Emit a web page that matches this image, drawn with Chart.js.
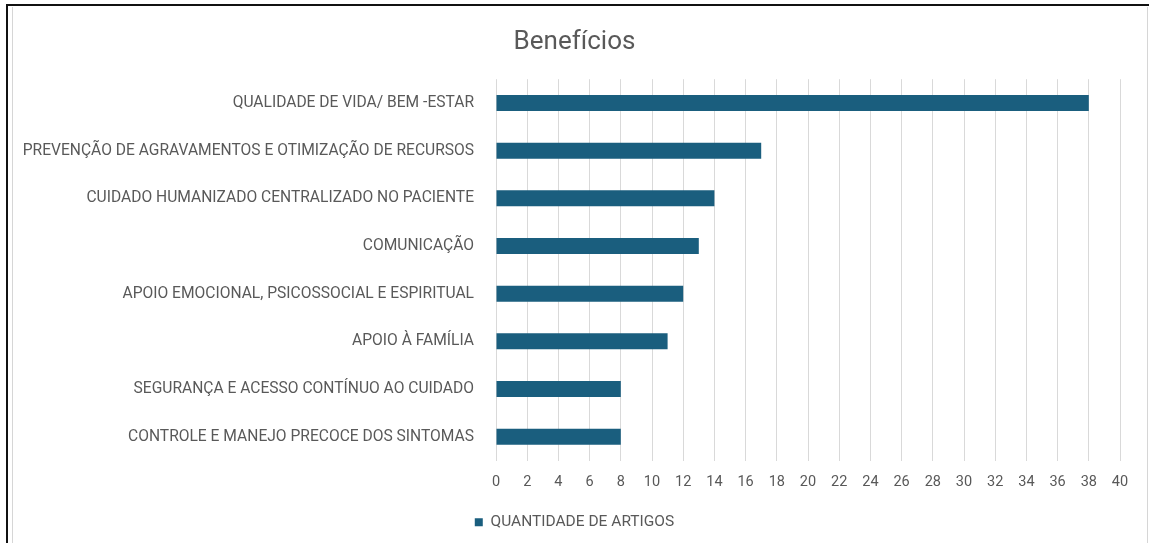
<!DOCTYPE html>
<html>
<head>
<meta charset="utf-8">
<script src="https://cdn.jsdelivr.net/npm/chart.js@4.4.1/dist/chart.umd.min.js"></script>
<style>
  html, body { margin: 0; padding: 0; background: #fff; }
  body { width: 1149px; height: 543px; position: relative; overflow: hidden; }
  #frame { position: absolute; left: 6px; top: 4px; width: 1160px; height: 560px;
           border-left: 2.5px solid #111; border-top: 2.5px solid #111; box-sizing: border-box; }
  #inner { position: absolute; left: 12px; top: 7px; width: 1136px; height: 560px;
           border-left: 1px solid #d6d6d6; border-right: 1px solid #d6d6d6; box-sizing: border-box; }
  canvas { position: absolute; left: 0; top: 0; }
</style>
</head>
<body>
<div id="frame"></div>
<div id="inner"></div>
<canvas id="c" width="1149" height="543"></canvas>
<script>
const chartTitle = "Benefícios";
const seriesName = "QUANTIDADE DE ARTIGOS";
const categories = [
  "QUALIDADE DE VIDA/ BEM -ESTAR",
  "PREVENÇÃO DE AGRAVAMENTOS E OTIMIZAÇÃO DE RECURSOS",
  "CUIDADO HUMANIZADO CENTRALIZADO NO PACIENTE",
  "COMUNICAÇÃO",
  "APOIO EMOCIONAL, PSICOSSOCIAL E ESPIRITUAL",
  "APOIO À FAMÍLIA",
  "SEGURANÇA E ACESSO CONTÍNUO AO CUIDADO",
  "CONTROLE E MANEJO PRECOCE DOS SINTOMAS"
];
const values = [38, 17, 14, 13, 12, 11, 8, 8];
const xMin = 0, xMax = 40, xStep = 2;

const textColor = "#595959";
const barColor = "#1a5e7e";
const gridColor = "#d9d9d9";
const fontFamily = "Roboto, 'Liberation Sans', sans-serif";

new Chart(document.getElementById("c"), {
  type: "bar",
  data: {
    labels: categories,
    datasets: [{
      label: seriesName,
      data: values,
      backgroundColor: barColor,
      borderWidth: 0,
      barPercentage: 0.67,
      categoryPercentage: 0.5
    }]
  },
  options: {
    indexAxis: "y",
    responsive: false,
    animation: false,
    layout: { padding: { left: 0, right: 0, top: 0, bottom: 3 } },
    plugins: {
      title: {
        display: true,
        text: chartTitle,
        color: textColor,
        font: { family: fontFamily, size: 26, weight: "normal" },
        padding: { top: 27, bottom: 21 }
      },
      legend: {
        display: true,
        position: "bottom",
        align: "center",
        labels: {
          color: textColor,
          font: { family: fontFamily, size: 15.5 },
          boxWidth: 8,
          boxHeight: 8,
          padding: 10
        }
      },
      tooltip: { enabled: false }
    },
    scales: {
      x: {
        type: "linear",
        min: xMin,
        max: xMax,
        position: "bottom",
        ticks: {
          stepSize: xStep,
          color: textColor,
          font: { family: fontFamily, size: 14.5 },
          padding: 13
        },
        grid: { color: gridColor, lineWidth: 1, drawTicks: false },
        border: { display: false },
        afterFit: s => { s.height = 44; }
      },
      y: {
        type: "category",
        position: "left",
        ticks: {
          color: textColor,
          font: { family: fontFamily, size: 15.6 },
          padding: 22,
          autoSkip: false
        },
        grid: { display: false, drawTicks: false },
        border: { display: false },
        afterFit: s => { s.width = 496; }
      },
      yRight: {
        type: "category",
        position: "right",
        display: true,
        ticks: { display: false },
        grid: { display: false, drawTicks: false },
        border: { display: false },
        afterFit: s => { s.width = 29; }
      }
    }
  }
});
</script>
</body>
</html>
